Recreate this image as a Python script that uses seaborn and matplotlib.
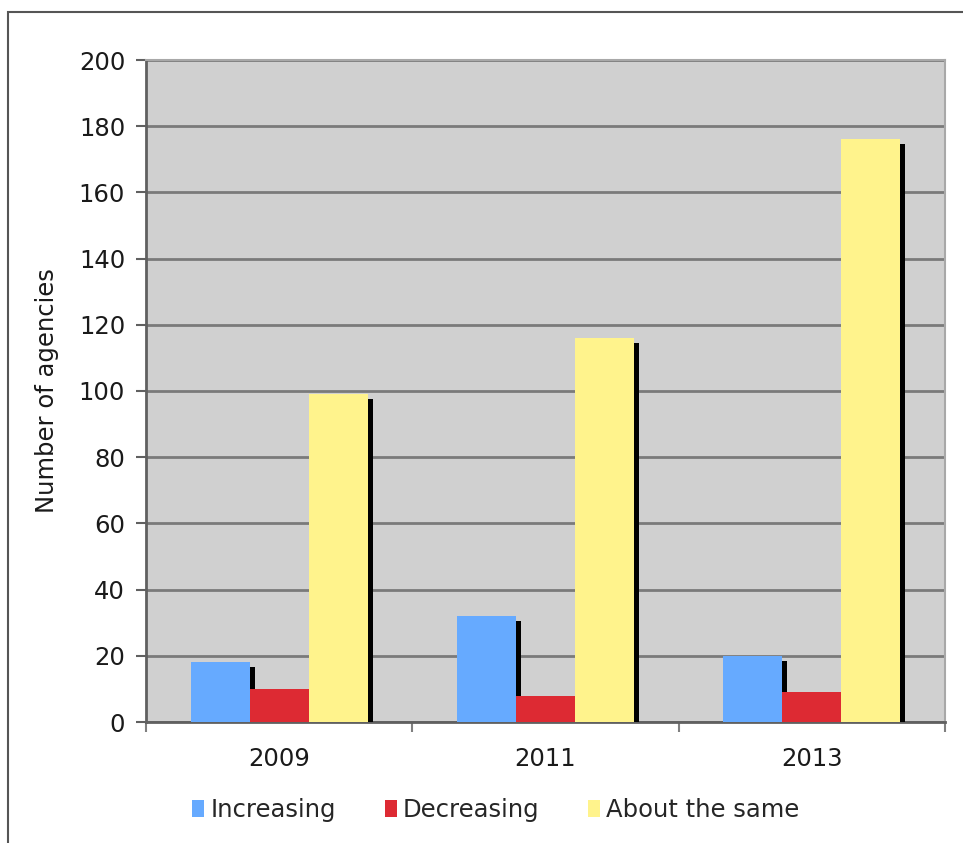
import matplotlib
matplotlib.use("Agg")
import matplotlib.pyplot as plt
import matplotlib.patheffects as pe
from matplotlib.patches import Rectangle, Patch
import pandas as pd
import seaborn as sns

years = ["2009", "2011", "2013"]
increasing = [18, 32, 20]
decreasing = [10, 8, 9]
about_same = [99, 116, 176]
series = ["Increasing", "Decreasing", "About the same"]
colors = ["#66AAFF", "#DD2A33", "#FFF38C"]

df = pd.DataFrame({
    "year": years * 3,
    "count": increasing + decreasing + about_same,
    "trend": [s for s in series for _ in years],
})

sns.set_style("white")
plt.rcParams["font.family"] = ["DejaVu Sans"]

W, H = 963, 843
fig = plt.figure(figsize=(W / 100, H / 100), dpi=100)
ax = fig.add_axes([146 / W, 1 - 722 / H, (945 - 146) / W, (722 - 60) / H])
ax.set_facecolor("#D0D0D0")

sns.barplot(data=df, x="year", y="count", hue="trend", hue_order=series,
            palette=colors, width=0.665, gap=0, saturation=1, ax=ax,
            legend=False, zorder=3, linewidth=0)

shadow = [pe.SimplePatchShadow(offset=(3.6, -3.6), shadow_rgbFace="black",
                               alpha=1.0), pe.Normal()]
for bar in ax.patches:
    bar.set_path_effects(shadow)

ax.set_xlim(-0.5, 2.5)
ax.set_ylim(0, 200)
ax.set_yticks(range(0, 201, 20))
ax.yaxis.grid(True, color="#7A7A7A", linewidth=2, zorder=1)
ax.set_axisbelow(True)

fs = 17.5
ax.set_xticks([0, 1, 2])
ax.set_xticks([-0.5, 0.5, 1.5, 2.5], minor=True)
ax.tick_params(axis="x", which="major", length=0, pad=18, labelsize=fs,
               labelcolor="#1a1a1a", bottom=True)
ax.tick_params(axis="x", which="minor", length=7, color="#808080", width=1.5,
               direction="out", bottom=True)
ax.tick_params(axis="y", length=7, color="#606060", width=1.5, pad=8,
               labelsize=fs, labelcolor="#1a1a1a", left=True)

for side in ["left", "bottom"]:
    ax.spines[side].set_color("#606060")
    ax.spines[side].set_linewidth(2)
for side in ["top", "right"]:
    ax.spines[side].set_color("#A8A8A8")
    ax.spines[side].set_linewidth(1.5)

ax.set_xlabel("")
ax.set_ylabel("Number of agencies", fontsize=fs, color="#1a1a1a", labelpad=14)

handles = [Patch(facecolor=c, edgecolor="none", label=s) for s, c in zip(series, colors)]
fig.legend(handles=handles, loc="center", bbox_to_anchor=(0.515, 1 - 810 / H),
           ncol=3, frameon=False, fontsize=fs, handlelength=0.5,
           handleheight=0.7, handletextpad=0.25, columnspacing=2.0)

fig.patches.append(Rectangle((8 / W, -0.1), 1.2, 1 - 12 / H + 0.1,
                             transform=fig.transFigure, fill=False,
                             edgecolor="#555555", linewidth=1.5))

fig.savefig("out.png", dpi=100, facecolor="white")
